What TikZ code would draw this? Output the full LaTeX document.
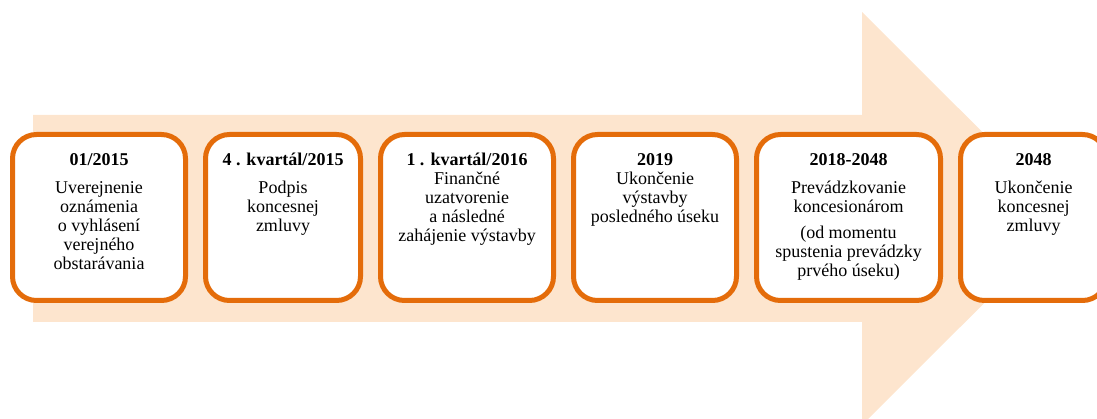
\documentclass[tikz,border=0pt]{standalone}
\usepackage{fontspec}
\setmainfont{Liberation Serif}
\usepackage{xcolor}
\usetikzlibrary{positioning}
\definecolor{phaseorange}{HTML}{E46C0A}
\definecolor{arrowpeach}{HTML}{FDE5CE}

\begin{document}
\begin{tikzpicture}[
   x=1pt,y=-1pt,
   node distance=15pt,
   phase/.style={draw=phaseorange,line width=5pt,fill=white,rounded corners=24pt,minimum height=166pt,inner sep=0pt},
   phasetxt/.style={align=center,inner sep=0pt,font=\fontsize{18}{19}\selectfont}]
  \path[use as bounding box,clip] (0,0) rectangle (1097,419);
  % background arrow
  \fill[arrowpeach] (33,115) -- (862,115) -- (862,12) -- (1069,218.5) -- (862,425) -- (862,322) -- (33,322) -- cycle;
  % boxes
  \node[phase,minimum width=173pt] (b1) at (99,217.5) {};
  \node[phase,minimum width=155pt,right=of b1] (b2) {};
  \node[phase,minimum width=173pt,right=of b2] (b3) {};
  \node[phase,minimum width=163pt,right=of b3] (b4) {};
  \node[phase,minimum width=184pt,right=of b4] (b5) {};
  \node[phase,minimum width=146pt,right=of b5] (b6) {};
  % texts
  \node[phasetxt,below=19.7pt of b1.north] (t1) {\textbf{\strut 01/2015}\\[9pt]
    Uverejnenie\\ oznámenia\\ o vyhlásení\\ verejného\\ obstarávania};
  \node[phasetxt,below=19.7pt of b2.north] (t2) {\textbf{\strut 4 . kvartál/2015}\\[9pt]
    Podpis\\ koncesnej\\ zmluvy};
  \node[phasetxt,below=19.7pt of b3.north] (t3) {\textbf{\strut 1 . kvartál/2016}\\
    Finančné\\ uzatvorenie\\ a následné\\ zahájenie výstavby};
  \node[phasetxt,below=19.7pt of b4.north] (t4) {\textbf{\strut 2019}\\
    Ukončenie\\ výstavby\\ posledného úseku};
  \node[phasetxt,below=19.7pt of b5.north] (t5) {\textbf{\strut 2018-2048}\\[9pt]
    Prevádzkovanie\\ koncesionárom\\[7pt] (od momentu\\ spustenia prevádzky\\ prvého úseku)};
  \node[phasetxt,below=19.7pt of b6.north] (t6) {\textbf{\strut 2048}\\[9pt]
    Ukončenie\\ koncesnej\\ zmluvy};
\end{tikzpicture}
\end{document}
